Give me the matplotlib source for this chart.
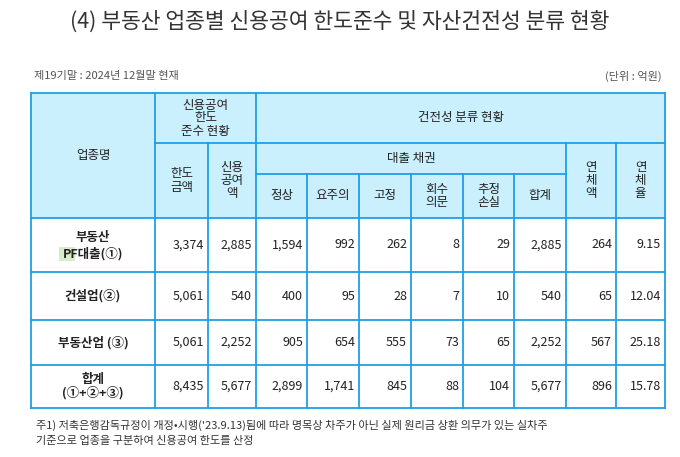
import matplotlib
matplotlib.use("Agg")
import matplotlib.pyplot as plt
from matplotlib.patches import Rectangle

plt.rcParams["font.family"] = ["Noto Sans CJK KR", "Noto Sans CJK JP", "Noto Sans CJK SC", "DejaVu Sans"]

title = "(4) 부동산 업종별 신용공여 한도준수 및 자산건전성 분류 현황"
subtitle_left = "제19기말 : 2024년 12월말 현재"
subtitle_right = "(단위 : 억원)"
row_labels = ["부동산\nPF대출(①)", "건설업(②)", "부동산업 (③)", "합계\n(①+②+③)"]
limit_amt = ["3,374", "5,061", "5,061", "8,435"]
credit_amt = ["2,885", "540", "2,252", "5,677"]
normal = ["1,594", "400", "905", "2,899"]
caution = ["992", "95", "654", "1,741"]
substandard = ["262", "28", "555", "845"]
doubtful = ["8", "7", "73", "88"]
loss = ["29", "10", "65", "104"]
loan_total = ["2,885", "540", "2,252", "5,677"]
overdue_amt = ["264", "65", "567", "896"]
overdue_rate = ["9.15", "12.04", "25.18", "15.78"]
footnote = ["주1) 저축은행감독규정이 개정•시행('23.9.13)됨에 따라 명목상 차주가 아닌 실제 원리금 상환 의무가 있는 실차주",
            "기준으로 업종을 구분하여 신용공여 한도를 산정"]

W, H = 680, 457
fig = plt.figure(figsize=(W/100, H/100), dpi=100)
ax = fig.add_axes([0, 0, 1, 1])
ax.set_xlim(0, W); ax.set_ylim(H, 0); ax.axis("off")

BC = "#1ea0e6"; HF = "#cbf0fd"; TC = "#222222"
xs = [31, 155, 208, 256, 307, 359, 411, 463, 514, 566, 616, 665]
y0, y1, y2, y3 = 93, 143, 174, 218
rows = [218, 272, 320, 365, 408]

ax.text(W/2, 22, title, ha="center", va="center", fontsize=15.5, color="#333333")
ax.text(34, 76, subtitle_left, ha="left", va="center", fontsize=8, color="#555555")
ax.text(662, 76, subtitle_right, ha="right", va="center", fontsize=8, color="#555555")

ax.add_patch(Rectangle((xs[0], y0), xs[-1]-xs[0], y3-y0, facecolor=HF, edgecolor="none"))
lw = 1.3
def hl(y, a, b): ax.plot([a, b], [y, y], color=BC, lw=lw)
def vl(x, a, b): ax.plot([x, x], [a, b], color=BC, lw=lw)
hl(y0, xs[0], xs[-1]); hl(y1, xs[1], xs[-1]); hl(y2, xs[3], xs[9])
for y in rows: hl(y, xs[0], xs[-1])
vl(xs[0], y0, rows[-1]); vl(xs[-1], y0, rows[-1]); vl(xs[1], y0, rows[-1]); vl(xs[3], y0, rows[-1])
vl(xs[2], y1, rows[-1])
for x in xs[4:9]: vl(x, y2, rows[-1])
vl(xs[9], y1, rows[-1]); vl(xs[10], y1, rows[-1])

fs = 9
def c(x, y, s, **k): ax.text(x, y, s, ha="center", va="center", fontsize=fs, color=TC, linespacing=1.0, **k)
c((xs[0]+xs[1])/2, (y0+y3)/2, "업종명")
c((xs[1]+xs[3])/2, (y0+y1)/2, "신용공여\n한도\n준수 현황")
c((xs[1]+xs[2])/2, (y1+y3)/2, "한도\n금액")
c((xs[2]+xs[3])/2, (y1+y3)/2, "신용\n공여\n액")
c((xs[3]+xs[-1])/2, (y0+y1)/2, "건전성 분류 현황")
c((xs[3]+xs[9])/2, (y1+y2)/2, "대출 채권")
for i, s in enumerate(["정상", "요주의", "고정", "회수\n의문", "추정\n손실", "합계"]):
    c((xs[3+i]+xs[4+i])/2, (y2+y3)/2, s)
c((xs[9]+xs[10])/2, (y1+y3)/2, "연\n체\n액")
c((xs[10]+xs[11])/2, (y1+y3)/2, "연\n체\n율")

cols = [limit_amt, credit_amt, normal, caution, substandard, doubtful, loss, loan_total, overdue_amt, overdue_rate]
for r in range(4):
    ym = (rows[r]+rows[r+1])/2
    if r == 0:
        top, bot = row_labels[0].split("\n")
        ax.text((xs[0]+xs[1])/2, ym-8, top, ha="center", va="center", fontsize=fs, color=TC, fontweight="bold")
        ax.text((xs[0]+xs[1])/2, ym+9, bot, ha="center", va="center", fontsize=fs, color=TC, fontweight="bold")
        ax.add_patch(Rectangle((59, ym+2), 16, 14, facecolor="#d8ecc9", edgecolor="none", zorder=0))
    else:
        ax.text((xs[0]+xs[1])/2, ym, row_labels[r], ha="center", va="center", fontsize=fs, color=TC, fontweight="bold", linespacing=1.0)
    for j, col in enumerate(cols):
        ax.text(xs[2+j]-4, ym, col[r], ha="right", va="center", fontsize=fs, color=TC)

ax.text(36, 425, footnote[0], ha="left", va="center", fontsize=8, color="#333333")
ax.text(36, 441, footnote[1], ha="left", va="center", fontsize=8, color="#333333")
fig.savefig("out.png", dpi=100)
